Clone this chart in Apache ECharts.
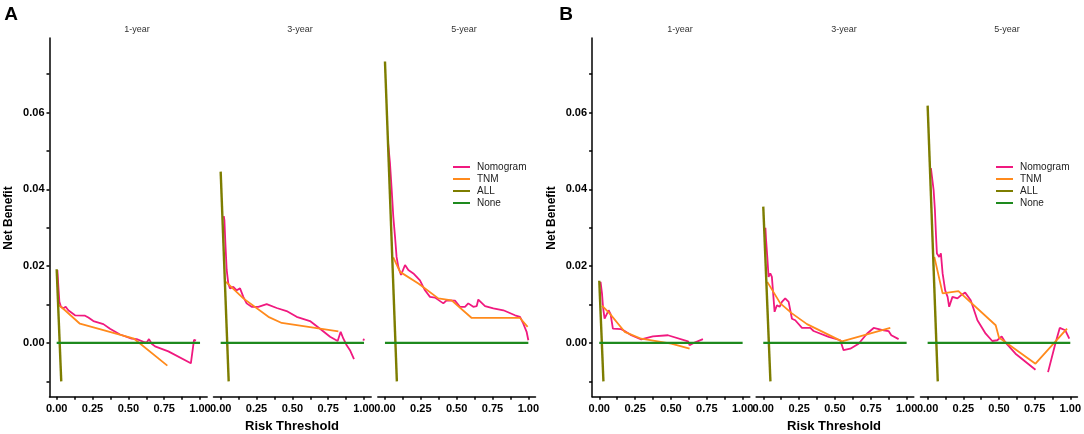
<!DOCTYPE html>
<html>
<head>
<meta charset="utf-8">
<script src="https://cdn.jsdelivr.net/npm/echarts@6/dist/echarts.min.js"></script>
<style>
  html, body { margin: 0; padding: 0; background: #fff; }
  #chart { width: 1084px; height: 434px; }
</style>
</head>
<body>
<div id="chart"></div>
<script>
// tick values
var xTicks = [0, 0.125, 0.25, 0.375, 0.5, 0.625, 0.75, 0.875, 1];
var xLabels = [0, 0.25, 0.5, 0.75, 1];
var yTicks = [-0.01, 0, 0.01, 0.02, 0.03, 0.04, 0.05, 0.06, 0.07];
var yLabels = [0, 0.02, 0.04, 0.06];
var facetNames = ['1-year', '3-year', '5-year', '1-year', '3-year', '5-year'];
var seriesNames = ['Nomogram', 'TNM', 'ALL', 'None'];

// panel A, 1-year
var a1Nomogram = [[0.005,0.019],[0.012,0.0146],[0.019,0.0107],[0.03,0.0094],[0.047,0.009],[0.063,0.0094],[0.081,0.0085],[0.128,0.0072],[0.198,0.0071],[0.221,0.0066],[0.256,0.0057],[0.326,0.0049],[0.372,0.0037],[0.442,0.0022],[0.523,0.0011],[0.558,0.001],[0.605,0.0003],[0.628,0.0001],[0.644,0.001],[0.663,-0.0002],[0.686,-0.0009],[0.779,-0.0022],[0.936,-0.0053],[0.958,0.0008],[0.972,0.0006]];
var a1Tnm = [[0.012,0.0099],[0.058,0.0085],[0.162,0.005],[0.54,0.0011],[0.772,-0.0059]];
var a1All = [[0,0.0192],[0.032,-0.01]];
// panel A, 3-year
var a2Nomogram = [[0.022,0.033],[0.026,0.032],[0.033,0.0259],[0.042,0.019],[0.053,0.0155],[0.065,0.0142],[0.088,0.0146],[0.112,0.0137],[0.135,0.0142],[0.158,0.012],[0.181,0.0103],[0.216,0.0094],[0.263,0.0094],[0.321,0.0101],[0.391,0.0091],[0.46,0.0083],[0.53,0.0068],[0.623,0.0057],[0.693,0.0037],[0.763,0.0016],[0.816,0.0005],[0.837,0.0029],[0.856,0.0011],[0.879,-0.0006],[0.902,-0.0019],[0.93,-0.0042],[0.96,'-'],[0.995,0.0006],[1.0,0.0011]];
var a2Tnm = [[0.037,0.0159],[0.158,0.0116],[0.333,0.0068],[0.426,0.0052],[0.821,0.003]];
var a2All = [[0,0.0446],[0.056,-0.01]];
// panel A, 5-year
var a3Nomogram = [[0.022,0.052],[0.035,0.0468],[0.047,0.0398],[0.058,0.0329],[0.07,0.0277],[0.081,0.0224],[0.093,0.0198],[0.112,0.0177],[0.14,0.0203],[0.163,0.019],[0.198,0.0181],[0.244,0.0163],[0.279,0.0137],[0.314,0.012],[0.349,0.0118],[0.407,0.0103],[0.43,0.0111],[0.488,0.011],[0.523,0.0094],[0.558,0.0094],[0.581,0.0103],[0.616,0.0094],[0.64,0.0096],[0.651,0.0113],[0.698,0.0096],[0.756,0.009],[0.826,0.0085],[0.907,0.0072],[0.942,0.0068],[0.965,0.005],[0.988,0.0029],[1.0,0.0007]];
var a3Tnm = [[0.058,0.0223],[0.105,0.0185],[0.233,0.0155],[0.372,0.0116],[0.465,0.0111],[0.605,0.0065],[0.942,0.0065],[0.995,0.0042]];
var a3All = [[0,0.0733],[0.083,-0.01]];
// panel B, 1-year
var b1Nomogram = [[0.009,0.0159],[0.019,0.0129],[0.026,0.0094],[0.037,0.0063],[0.049,0.0068],[0.065,0.0085],[0.079,0.0075],[0.095,0.0037],[0.153,0.0036],[0.177,0.0031],[0.223,0.002],[0.293,0.0009],[0.374,0.0017],[0.479,0.002],[0.619,0.0004],[0.63,-0.0006],[0.665,0.0001],[0.723,0.001]];
var b1Tnm = [[0.019,0.0097],[0.072,0.0077],[0.177,0.0029],[0.293,0.0011],[0.502,-0.0002],[0.63,-0.0015]];
var b1All = [[0,0.0162],[0.029,-0.01]];
// panel B, 3-year
var b2Nomogram = [[0.015,0.03],[0.019,0.0272],[0.028,0.0224],[0.037,0.0172],[0.049,0.0181],[0.06,0.0172],[0.079,0.0081],[0.095,0.0098],[0.114,0.0094],[0.13,0.0107],[0.153,0.0116],[0.177,0.0107],[0.2,0.0063],[0.223,0.0059],[0.27,0.0039],[0.328,0.0039],[0.351,0.0031],[0.456,0.0016],[0.537,0.0007],[0.56,-0.0019],[0.607,-0.0015],[0.665,-0.0002],[0.723,0.0024],[0.77,0.0039],[0.84,0.0033],[0.874,0.0031],[0.893,0.002],[0.944,0.001]];
var b2Tnm = [[0.028,0.0159],[0.119,0.0103],[0.2,0.0077],[0.305,0.0049],[0.549,0.0004],[0.886,0.0039]];
var b2All = [[0,0.0355],[0.05,-0.01]];
// panel B, 5-year
var b3Nomogram = [[0.023,0.0455],[0.035,0.045],[0.042,0.0398],[0.051,0.0346],[0.058,0.0285],[0.065,0.0233],[0.081,0.0224],[0.093,0.0233],[0.105,0.0181],[0.123,0.0137],[0.14,0.012],[0.151,0.0094],[0.174,0.012],[0.209,0.0116],[0.233,0.0124],[0.263,0.0131],[0.302,0.0111],[0.349,0.0059],[0.407,0.0024],[0.453,0.0005],[0.488,0.0007],[0.519,0.0017],[0.542,0.0003],[0.616,-0.0028],[0.756,-0.007],[0.8,'-'],[0.844,-0.0076],[0.895,-0.0002],[0.926,0.0039],[0.965,0.0033],[0.993,0.0011]];
var b3Tnm = [[0.047,0.0224],[0.105,0.0129],[0.216,0.0135],[0.477,0.0046],[0.5,0.0014],[0.756,-0.0054],[0.977,0.0037]];
var b3All = [[0,0.0618],[0.071,-0.01]];
var noneLine = [[0,0],[1,0]];

var nomogramSets = [a1Nomogram, a2Nomogram, a3Nomogram, b1Nomogram, b2Nomogram, b3Nomogram];
var tnmSets = [a1Tnm, a2Tnm, a3Tnm, b1Tnm, b2Tnm, b3Tnm];
var allSets = [a1All, a2All, a3All, b1All, b2All, b3All];

var colors = {Nomogram: '#F0197F', TNM: '#FF8A1C', ALL: '#7D7D00', None: '#1E8A1E'};
var widths = {Nomogram: 1.8, TNM: 1.8, ALL: 2.4, None: 2.2};
var font = '"Liberation Sans", Arial, sans-serif';

var gridLeft = [49.5, 213.5, 377.8, 592.1, 756.1, 920.5];
var grids = [], xAxes = [], yAxes = [], series = [];

gridLeft.forEach(function (left, i) {
    grids.push({left: left, top: 38, width: 157.7, height: 358.7});
    xAxes.push({
        type: 'value', gridIndex: i, min: -0.05, max: 1.05,
        axisLine: {show: true, onZero: false, lineStyle: {color: '#000', width: 1.5}},
        axisTick: {show: true, customValues: xTicks, length: 3, lineStyle: {color: '#000', width: 1.5}},
        axisLabel: {
            customValues: xLabels, margin: 7, color: '#000', fontSize: 11,
            fontWeight: 'bold', fontFamily: font,
            formatter: function (v) { return v.toFixed(2); }
        },
        splitLine: {show: false}
    });
    var first = (i === 0 || i === 3);
    yAxes.push({
        type: 'value', gridIndex: i, min: -0.014, max: 0.0794, show: first,
        axisLine: {show: true, onZero: false, lineStyle: {color: '#000', width: 1.5}},
        axisTick: {show: true, customValues: yTicks, length: 3, lineStyle: {color: '#000', width: 1.5}},
        axisLabel: {
            customValues: yLabels, margin: 5, color: '#000', fontSize: 11,
            fontWeight: 'bold', fontFamily: font,
            formatter: function (v) { return v.toFixed(2); }
        },
        splitLine: {show: false}
    });
    var sets = [nomogramSets[i], tnmSets[i], allSets[i], noneLine];
    seriesNames.forEach(function (name, k) {
        series.push({
            name: name, type: 'line', xAxisIndex: i, yAxisIndex: i,
            data: sets[k], showSymbol: false, symbol: 'none', silent: true,
            connectNulls: false, animation: false,
            itemStyle: {color: colors[name]},
            lineStyle: {color: colors[name], width: widths[name]}
        });
    });
});

var graphics = [];
function addText(txt, x, y, size, weight, color, rot) {
    graphics.push({
        type: 'text', x: x, y: y, rotation: rot || 0,
        style: {
            text: txt, x: 0, y: 0, textAlign: 'center', textVerticalAlign: 'middle',
            fontSize: size, fontWeight: weight, fontFamily: font, fill: color
        }
    });
}
addText('A', 11, 15, 19, 'bold', '#000');
addText('B', 566, 15, 19, 'bold', '#000');
var facetX = [137, 300, 464, 680, 844, 1007];
facetX.forEach(function (x, i) { addText(facetNames[i], x, 30, 9, 'normal', '#333'); });
addText('Risk Threshold', 292, 426, 13, 'bold', '#000');
addText('Net Benefit', 9, 218, 12, 'bold', '#000', Math.PI / 2);
addText('Risk Threshold', 834, 426, 13, 'bold', '#000');
addText('Net Benefit', 552, 218, 12, 'bold', '#000', Math.PI / 2);

function makeLegend(left) {
    return {
        orient: 'vertical', left: left, top: 161, padding: 0, itemGap: 0,
        itemWidth: 17, itemHeight: 2, icon: 'rect', selectedMode: false,
        data: seriesNames,
        textStyle: {fontSize: 10, lineHeight: 12, color: '#222', fontFamily: font, padding: [0, 0, 0, 2]}
    };
}

var myChart = echarts.init(document.getElementById('chart'));
var option = {
    backgroundColor: '#fff',
    animation: false,
    grid: grids,
    xAxis: xAxes,
    yAxis: yAxes,
    legend: [makeLegend(453), makeLegend(996)],
    series: series,
    graphic: graphics
};
myChart.setOption(option);
</script>
</body>
</html>
